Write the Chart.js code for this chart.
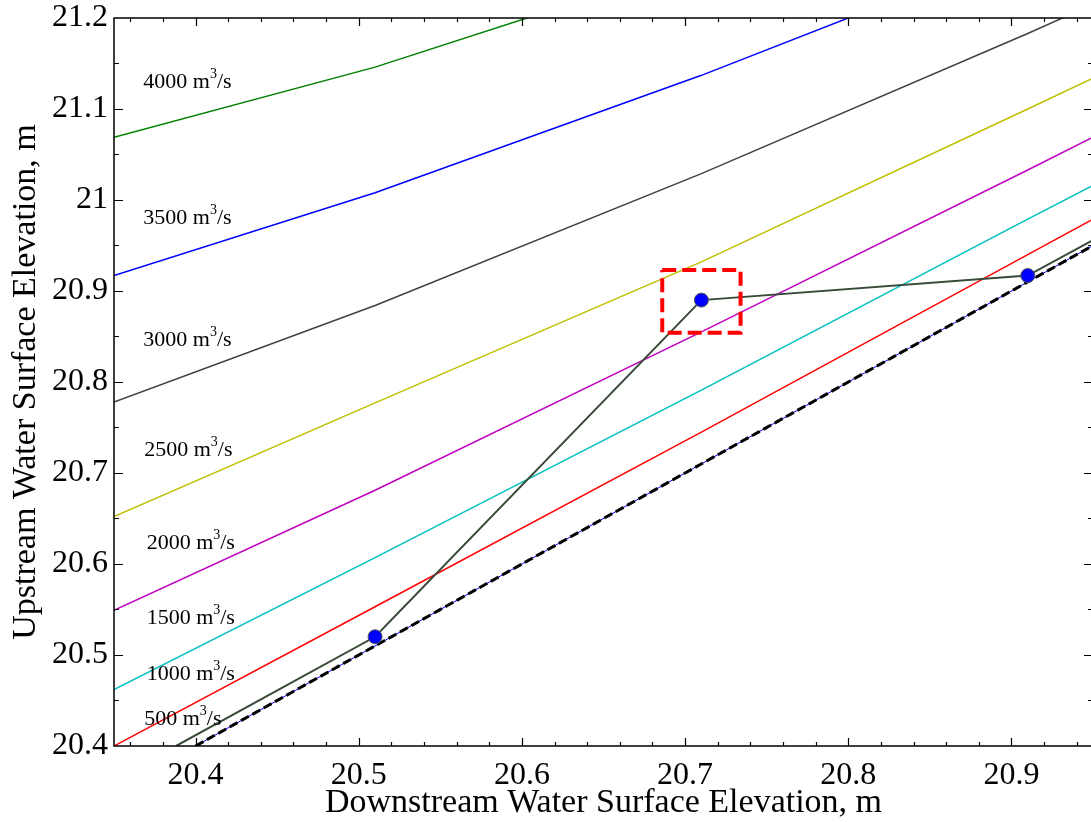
<!DOCTYPE html>
<html>
<head>
<meta charset="utf-8">
<script src="https://cdn.jsdelivr.net/npm/chart.js@4/dist/chart.umd.min.js"></script>
<style>
  html, body { margin: 0; padding: 0; background: #fff; overflow: hidden; }
  #wrap { width: 1091px; height: 822px; overflow: hidden; }
  #rating { display: block; }
</style>
</head>
<body>
<div id="wrap"><canvas id="rating" width="1095" height="822"></canvas></div>
<script>
// downstream stage (m) where the rating curves are given
var tailwater = [20.35, 20.51, 20.71, 20.91, 20.95];

// upstream stage (m) for each discharge
var q4000 = [21.069, 21.146, 21.262, 21.38, 21.41];
var q3500 = [20.917, 21.008, 21.137, 21.277, 21.31];
var q3000 = [20.778, 20.884, 21.029, 21.183, 21.215];
var q2500 = [20.652, 20.777, 20.932, 21.100, 21.134];
var q2000 = [20.549, 20.681, 20.855, 21.033, 21.069];
var q1500 = [20.462, 20.607, 20.791, 20.979, 21.016];
var q1000 = [20.400, 20.553, 20.745, 20.940, 20.979];

// operating path
var pathX = [20.388, 20.51, 20.71, 20.91, 20.95];
var pathY = [20.400, 20.52, 20.89, 20.917, 20.956];
var stepX = [20.51, 20.71, 20.91];
var stepY = [20.52, 20.89, 20.917];

// zero-flow line (upstream = downstream)
var noFlowX = [20.40, 20.95];
var noFlowY = [20.40, 20.95];

// highlighted window
var boxX = [20.686, 20.734, 20.734, 20.686, 20.686];
var boxY = [20.923, 20.923, 20.854, 20.854, 20.923];

var flowLabels = ["4000", "3500", "3000", "2500", "2000", "1500", "1000", "500"];

var xTicks = [20.4, 20.5, 20.6, 20.7, 20.8, 20.9];
var yTicks = [20.4, 20.5, 20.6, 20.7, 20.8, 20.9, 21, 21.1, 21.2];

function pts(xs, ys) {
  return xs.map(function (x, i) { return { x: x, y: ys[i] }; });
}

function curve(ys, color) {
  return {
    data: pts(tailwater, ys),
    borderColor: color,
    borderWidth: 1.5,
    pointRadius: 0,
    order: 10
  };
}

var SERIF = "'Liberation Serif', 'DejaVu Serif', serif";

// where each discharge label sits, in axis units
var labelAt = [
  [20.368, 21.129], [20.368, 20.980], [20.368, 20.846], [20.3685, 20.725],
  [20.370, 20.623], [20.370, 20.540], [20.370, 20.479], [20.3685, 20.429]
];

var flowText = {
  id: 'flowText',
  afterDatasetsDraw: function (chart) {
    var ctx = chart.ctx, xs = chart.scales.x, ys = chart.scales.y;
    ctx.save();
    ctx.fillStyle = '#000';
    ctx.textBaseline = 'middle';
    flowLabels.forEach(function (q, i) {
      var px = xs.getPixelForValue(labelAt[i][0]);
      var py = ys.getPixelForValue(labelAt[i][1]);
      ctx.font = '22px ' + SERIF;
      var a = q + ' m';
      ctx.fillText(a, px, py);
      px += ctx.measureText(a).width;
      ctx.font = '14px ' + SERIF;
      ctx.fillText('3', px, py - 8);
      px += ctx.measureText('3').width;
      ctx.font = '22px ' + SERIF;
      ctx.fillText('/s', px, py);
    });
    ctx.restore();
  }
};

// box frame with inward ticks on all four sides
var frame = {
  id: 'frame',
  afterDatasetsDraw: function (chart) {
    var ctx = chart.ctx, a = chart.chartArea, xs = chart.scales.x, ys = chart.scales.y;
    ctx.save();
    ctx.strokeStyle = '#000';
    ctx.lineWidth = 1.5;
    ctx.strokeRect(a.left, a.top, a.right - a.left, a.bottom - a.top);
    ctx.lineWidth = 1.2;
    ctx.beginPath();
    var v, p, len;
    for (v = 20.36; v < 20.95; v += 0.02) {
      p = Math.round(xs.getPixelForValue(v)) + 0.5;
      len = Math.abs(v * 10 - Math.round(v * 10)) < 1e-6 ? 8 : 4;
      ctx.moveTo(p, a.bottom); ctx.lineTo(p, a.bottom - len);
      ctx.moveTo(p, a.top); ctx.lineTo(p, a.top + len);
    }
    for (v = 20.45; v < 21.2; v += 0.05) {
      p = Math.round(ys.getPixelForValue(v)) + 0.5;
      len = Math.abs(v * 10 - Math.round(v * 10)) < 1e-6 ? 9 : 5;
      ctx.moveTo(a.left, p); ctx.lineTo(a.left + len, p);
      ctx.moveTo(a.right, p); ctx.lineTo(a.right - len, p);
    }
    ctx.stroke();
    ctx.restore();
  }
};

new Chart(document.getElementById('rating'), {
  type: 'line',
  data: {
    datasets: [
      {
        data: pts(stepX, stepY),
        showLine: false,
        pointRadius: 7,
        pointBackgroundColor: '#0000ff',
        pointBorderColor: '#555555',
        pointBorderWidth: 1,
        order: 0
      },
      {
        data: pts(boxX, boxY),
        borderColor: '#ff0000',
        borderWidth: 4,
        borderDash: [14, 6],
        pointRadius: 0,
        order: 1
      },
      {
        data: pts(noFlowX, noFlowY),
        borderColor: '#000000',
        borderWidth: 3,
        borderDash: [9, 4],
        pointRadius: 0,
        order: 2
      },
      {
        data: pts(noFlowX, noFlowY),
        borderColor: '#0000ff',
        borderWidth: 1,
        pointRadius: 0,
        order: 3
      },
      {
        data: pts(pathX, pathY),
        borderColor: '#374a37',
        borderWidth: 2,
        pointRadius: 0,
        order: 4
      },
      curve(q4000, '#008000'),
      curve(q3500, '#0000ff'),
      curve(q3000, '#404040'),
      curve(q2500, '#bfbf00'),
      curve(q2000, '#bf00bf'),
      curve(q1500, '#00bfbf'),
      curve(q1000, '#ff0000')
    ]
  },
  options: {
    responsive: false,
    animation: false,
    devicePixelRatio: 1,
    layout: { autoPadding: false, padding: { top: 18, right: 2, left: 0, bottom: 0 } },
    plugins: { legend: { display: false }, tooltip: { enabled: false } },
    elements: { line: { tension: 0 } },
    scales: {
      x: {
        type: 'linear',
        min: 20.35,
        max: 20.95,
        afterBuildTicks: function (s) { s.ticks = xTicks.map(function (v) { return { value: v }; }); },
        afterFit: function (s) { s.height = 76; s.paddingLeft = 0; s.paddingRight = 0; },
        grid: { display: false, drawTicks: false },
        border: { display: false },
        ticks: { color: '#000', padding: 10, font: { family: SERIF, size: 32 }, maxRotation: 0,
          callback: function (v) { return String(Math.round(v * 10) / 10); } },
        title: { display: true, text: 'Downstream Water Surface Elevation, m', color: '#000',
          font: { family: SERIF, size: 34 }, padding: { top: 0, bottom: -1 } }
      },
      y: {
        type: 'linear',
        min: 20.4,
        max: 21.2,
        afterBuildTicks: function (s) { s.ticks = yTicks.map(function (v) { return { value: v }; }); },
        afterFit: function (s) { s.width = 114; s.paddingTop = 0; s.paddingBottom = 0; },
        grid: { display: false, drawTicks: false },
        border: { display: false },
        ticks: { color: '#000', padding: 6, font: { family: SERIF, size: 32 },
          callback: function (v) { return String(Math.round(v * 10) / 10); } },
        title: { display: true, text: 'Upstream Water Surface Elevation, m', color: '#000',
          font: { family: SERIF, size: 34 }, padding: { top: 6, bottom: 0 } }
      }
    }
  },
  plugins: [frame, flowText]
});
</script>
</body>
</html>
